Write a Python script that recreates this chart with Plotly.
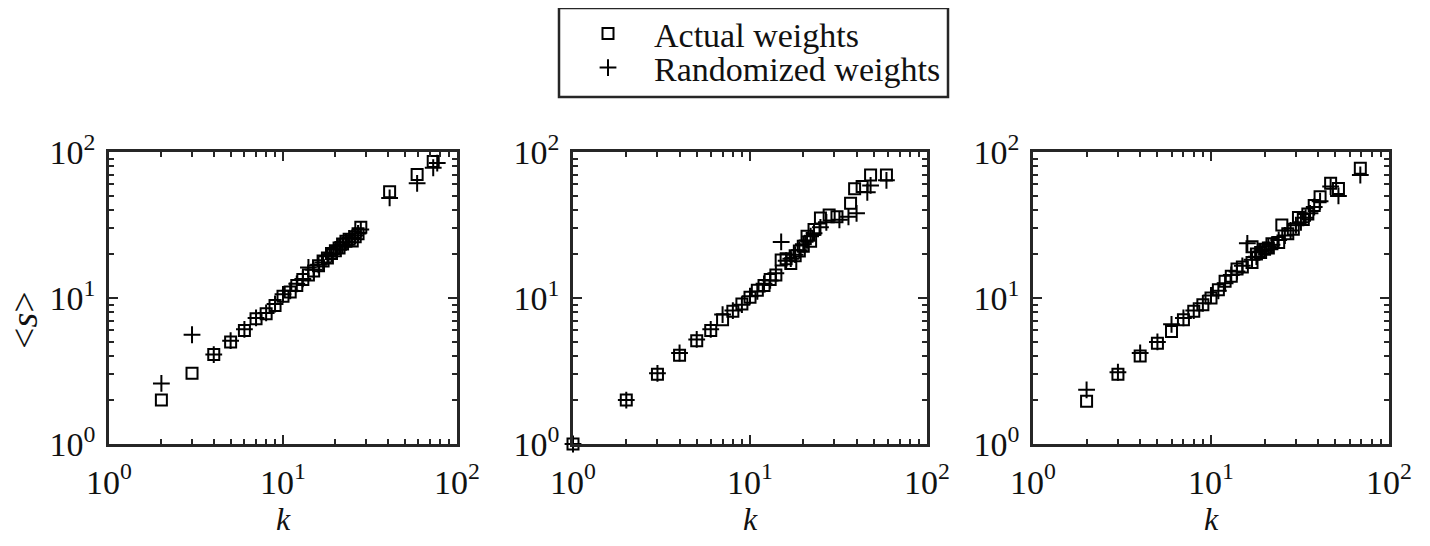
import plotly.graph_objects as go

# ---------------- data ----------------
# Panel 1
k1_actual = [2, 3, 4, 5, 6, 7, 8, 9, 10, 11, 12, 13, 14, 15, 16, 17, 18, 19, 20, 21, 22, 23, 24, 25, 26, 27, 28, 41, 59, 73, 77]
s1_actual = [2.0, 3.05, 4.1, 5.0, 6.0, 7.2, 7.8, 8.9, 10.3, 11.0, 12.2, 13.4, 14.4, 15.3, 16.6, 17.9, 18.8, 20.2, 21.1, 22.0, 23.4, 24.5, 25.3, 24.6, 26.3, 27.5, 30.5, 53.5, 70, 86, 102]
k1_random = [2, 3, 4, 5, 6, 7, 8, 9, 10, 11, 12, 13, 14, 15, 16, 17, 18, 19, 20, 21, 22, 23, 24, 25, 26, 27, 28, 41, 59, 73, 77]
s1_random = [2.6, 5.6, 4.1, 5.1, 6.1, 7.3, 7.9, 9.1, 10.6, 11.2, 12.5, 13.5, 16.2, 15.6, 16.9, 17.5, 19.3, 20.0, 21.5, 22.6, 23.1, 24.1, 25.6, 25.8, 26.8, 27.7, 29.5, 48.5, 61, 78, 84]

# Panel 2
k2_actual = [1, 2, 3, 4, 5, 6, 7, 8, 9, 10, 11, 12, 13, 14, 15, 16, 17, 18, 19, 20, 21, 22, 23, 25, 28, 31, 37, 39, 43, 48, 59]
s2_actual = [1.0, 2.0, 3.0, 4.05, 5.1, 6.0, 7.1, 8.1, 9.1, 10.1, 11.3, 12.2, 13.4, 14.4, 18.2, 18.6, 17.2, 19.5, 21.0, 22.6, 26.5, 24.5, 29.5, 35.3, 37.0, 36.0, 44.5, 56, 58, 69.6, 69.6]
k2_random = [1, 2, 3, 4, 5, 6, 7, 8, 9, 10, 11, 12, 13, 14, 15, 16, 17, 18, 19, 20, 21, 22, 23, 25, 27, 32, 36, 40, 46, 48, 59]
s2_random = [1.0, 2.0, 3.05, 4.2, 5.2, 6.1, 7.7, 8.2, 9.0, 10.3, 11.1, 12.5, 13.2, 14.8, 24.2, 18.0, 18.6, 19.8, 21.2, 23.3, 24.8, 26.5, 27.8, 30.5, 33.0, 34.3, 36.0, 38.0, 53, 59, 64]

# Panel 3
k3_actual = [2, 3, 4, 5, 6, 7, 8, 9, 10, 11, 12, 13, 14, 15, 17, 17, 18, 19, 20, 21, 22, 24, 25, 27, 29, 31, 33, 35, 38, 41, 47, 52, 69]
s3_actual = [1.96, 3.0, 4.0, 4.9, 5.9, 7.1, 8.1, 9.0, 10.0, 11.4, 13.0, 14.1, 15.8, 16.3, 22.4, 17.5, 20.0, 20.5, 21.6, 22.0, 23.5, 24.0, 31.6, 27.5, 29.6, 35.6, 34.5, 37.6, 43.0, 49.3, 61.2, 56.3, 77.5]
k3_random = [2, 3, 4, 5, 6, 7, 8, 9, 10, 11, 12, 13, 14, 15, 16, 17, 18, 19, 20, 21, 22, 24, 26, 28, 30, 32, 34, 36, 38, 41, 47, 52, 69]
s3_random = [2.35, 3.1, 4.2, 5.0, 6.6, 7.3, 8.2, 9.2, 10.4, 11.2, 12.6, 14.4, 15.2, 16.6, 23.7, 18.3, 19.2, 20.8, 21.3, 22.6, 23.2, 25.0, 26.8, 29.0, 31.5, 33.0, 35.5, 38.0, 42.0, 46.0, 58.0, 50.0, 69.6]

tick_vals = [1, 10, 100]
tick_text = ["10<sup>0</sup>", "10<sup>1</sup>", "10<sup>2</sup>"]
minor_vals = [2, 3, 4, 5, 6, 7, 8, 9, 20, 30, 40, 50, 60, 70, 80, 90]
series_names = ["Actual weights", "Randomized weights"]

panels = [
    (k1_actual, s1_actual, k1_random, s1_random),
    (k2_actual, s2_actual, k2_random, s2_random),
    (k3_actual, s3_actual, k3_random, s3_random),
]

# ---------------- figure ----------------
# The page body has an 8px default margin, so the figure is laid out in
# page coordinates shifted by OFF.
OFF = 8
W, H = 1430 - OFF, 546 - OFF


def px(x):
    return x - OFF


ML = px(109)
MT = px(152)
MB = H - px(444)
MR = W - px(1389)
PW = W - ML - MR
PH = H - MT - MB
domains = [(109, 457), (573, 927), (1033, 1389)]


def fx(x):  # page x -> paper fraction
    return (px(x) - ML) / PW


def fy(y):  # page y -> paper fraction
    return (H - MB - px(y)) / PH


FONT = "Liberation Serif"
AX = "#262626"
TXT = "#111111"

fig = go.Figure()
for i, (ka, sa, kr, sr) in enumerate(panels):
    xa = "x" if i == 0 else f"x{i+1}"
    ya = "y" if i == 0 else f"y{i+1}"
    fig.add_trace(go.Scatter(
        x=ka, y=sa, mode="markers", name=series_names[0],
        legend="legend", showlegend=(i == 0), xaxis=xa, yaxis=ya,
        cliponaxis=False,
        marker=dict(symbol="square-open", size=11, color="black",
                    line=dict(width=2, color="black")),
    ))
    fig.add_trace(go.Scatter(
        x=kr, y=sr, mode="markers", name=series_names[1],
        legend="legend2", showlegend=(i == 0), xaxis=xa, yaxis=ya,
        cliponaxis=False,
        marker=dict(symbol="cross-thin-open", size=12, color="black",
                    line=dict(width=2, color="black")),
    ))

axis_common = dict(
    type="log", range=[0, 2], tickvals=tick_vals, ticktext=tick_text,
    ticks="inside", ticklen=9, tickwidth=2, tickcolor=AX,
    showline=True, linewidth=2.5, linecolor=AX, mirror="ticks",
    showgrid=False, zeroline=False, automargin=False,
    tickfont=dict(family=FONT, size=34, color=TXT),
    minor=dict(tickvals=minor_vals, ticks="inside", ticklen=5, tickwidth=2,
               tickcolor=AX, showgrid=False),
)

legend_common = dict(
    xanchor="left", yanchor="middle", xref="paper", yref="paper",
    font=dict(family=FONT, size=34, color=TXT),
    bgcolor="rgba(0,0,0,0)", borderwidth=0, itemwidth=82,
)

layout = dict(
    width=W, height=H,
    margin=dict(l=ML, r=MR, t=MT, b=MB, autoexpand=False),
    paper_bgcolor="white", plot_bgcolor="white",
    font=dict(family=FONT, color=TXT),
    showlegend=True,
    legend=dict(legend_common, x=fx(562), y=fy(34)),
    legend2=dict(legend_common, x=fx(562), y=fy(68)),
)
for i, (x0, x1) in enumerate(domains):
    xk = "xaxis" if i == 0 else f"xaxis{i+1}"
    yk = "yaxis" if i == 0 else f"yaxis{i+1}"
    xa = "x" if i == 0 else f"x{i+1}"
    ya = "y" if i == 0 else f"y{i+1}"
    layout[xk] = dict(axis_common, domain=[fx(x0), fx(x1)], anchor=ya,
                      ticklabelstandoff=6,
                      title=dict(text="<i>k</i>", font=dict(family=FONT, size=32, color=TXT), standoff=4))
    layout[yk] = dict(axis_common, domain=[0, 1], anchor=xa, ticklabelstandoff=4)

fig.update_layout(**layout)

# legend border box
fig.add_shape(type="rect", xref="paper", yref="paper",
              x0=fx(559), x1=fx(948), y0=fy(97), y1=fy(8),
              line=dict(color=AX, width=2.5), fillcolor="rgba(0,0,0,0)")

# y axis title
fig.add_annotation(text="&lt;<i>s</i>&gt;", xref="paper", yref="paper",
                   x=fx(24), y=fy(320), xanchor="center", yanchor="middle",
                   showarrow=False, textangle=-90,
                   font=dict(family=FONT, size=38, color=TXT))

fig.write_html("out.html")
